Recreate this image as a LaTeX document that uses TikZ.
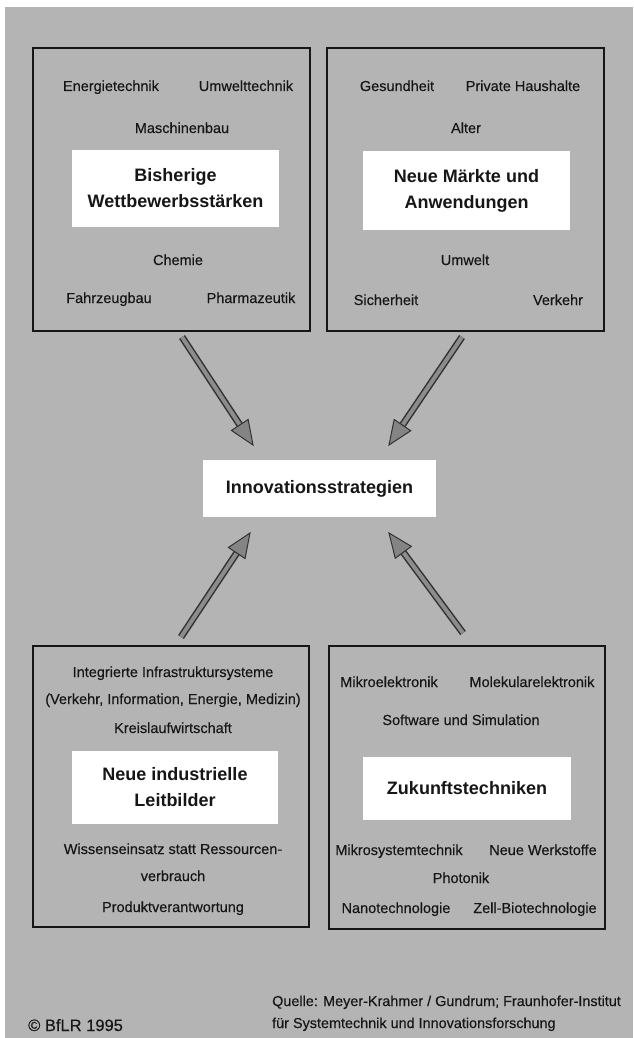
\documentclass[tikz,border=0pt]{standalone}
\usepackage{fontspec}
\setmainfont{Liberation Sans}
\newfontfamily\printfont[FakeBold=0.3]{Liberation Sans}
\usetikzlibrary{calc}

\definecolor{paper}{RGB}{180,180,180}
\definecolor{ink}{RGB}{22,22,22}
\definecolor{shaftdark}{RGB}{50,50,50}
\definecolor{shaftfill}{RGB}{140,140,140}
\definecolor{headfill}{RGB}{132,132,132}

\tikzset{
  panel/.style={draw=ink, line width=1.6pt, fill=none, inner sep=0pt},
  titlebox/.style={fill=white, inner sep=0pt, align=center, text=ink,
    font=\fontsize{18}{26}\selectfont\bfseries},
  item/.style={anchor=base, inner sep=0pt, text=ink,
    font=\printfont\fontsize{14.5}{17}\selectfont},
  note/.style={anchor=base west, inner sep=0pt, text=ink,
    font=\printfont\fontsize{14.4}{17}\selectfont},
  shaftout/.style={draw=shaftdark, line width=7pt},
  shaftin/.style={draw=shaftfill, line width=4pt},
  tipstyle/.style={fill=headfill, draw=shaftdark, line width=1pt, line join=miter},
}

% big hollow arrow from a tail coordinate to a tip coordinate
\newcommand\fatarrow[2]{%
  \coordinate (#2-base) at ($(#2)!24pt!(#1)$);
  \draw[shaftout] (#1) -- (#2-base);
  \draw[shaftin] (#1) -- (#2-base);
  \filldraw[tipstyle] (#2) -- ($(#2-base)!10pt!90:(#2)$) -- ($(#2-base)!10pt!-90:(#2)$) -- cycle;
}

\begin{document}
\begin{tikzpicture}[x=1pt, y=-1pt]
  \useasboundingbox (0,0) rectangle (633,1038);
  \fill[white] (0,0) rectangle (633,1038);
  \fill[paper] (5,7) rectangle (633,1038);

  % four panels
  \node[panel, minimum width=277pt, minimum height=283pt] (tl) at (171.5,189.5) {};
  \node[panel, minimum width=277pt, minimum height=283pt] (tr) at (465.5,189.5) {};
  \node[panel, minimum width=276pt, minimum height=281pt] (bl) at (171,786.5) {};
  \node[panel, minimum width=276pt, minimum height=283pt] (br) at (467,787.5) {};

  % panel titles
  \node[titlebox, minimum width=207pt, minimum height=77pt] (tlt) at (175.5,188.5)
    {Bisherige\\Wettbewerbsstärken};
  \node[titlebox, minimum width=207pt, minimum height=79pt] (trt) at (466.5,190.5)
    {Neue Märkte und\\Anwendungen};
  \node[titlebox, minimum width=206pt, minimum height=73pt] (blt) at (175,787.5)
    {Neue industrielle\\Leitbilder};
  \node[titlebox, minimum width=208pt, minimum height=63pt] (brt) at (467,788.5)
    {Zukunftstechniken};

  % centre
  \node[titlebox, minimum width=233pt, minimum height=57pt] (inno) at (319.5,488.5)
    {Innovationsstrategien};

  % top left panel
  \node[item] (tl1) at (111,91) {Energietechnik};
  \node[item] (tl2) at (246,91) {Umwelttechnik};
  \node[item] (tl3) at (182,133) {Maschinenbau};
  \node[item] (tl4) at (178,265) {Chemie};
  \node[item] (tl5) at (109,303) {Fahrzeugbau};
  \node[item] (tl6) at (251,303) {Pharmazeutik};

  % top right panel
  \node[item] (tr1) at (397,91) {Gesundheit};
  \node[item] (tr2) at (523,91) {Private Haushalte};
  \node[item] (tr3) at (466,133) {Alter};
  \node[item] (tr4) at (465,265) {Umwelt};
  \node[item] (tr5) at (386,305) {Sicherheit};
  \node[item] (tr6) at (558,305) {Verkehr};

  % bottom left panel
  \node[item] (bl1) at (173,677) {Integrierte Infrastruktursysteme};
  \node[item] (bl2) at (173,704) {(Verkehr, Information, Energie, Medizin)};
  \node[item] (bl3) at (173,733) {Kreislaufwirtschaft};
  \node[item] (bl4) at (173,854) {Wissenseinsatz statt Ressourcen-};
  \node[item] (bl5) at (173,881) {verbrauch};
  \node[item] (bl6) at (173,912) {Produktverantwortung};

  % bottom right panel
  \node[item] (br1) at (389,687) {Mikroelektronik};
  \node[item] (br2) at (532,687) {Molekularelektronik};
  \node[item] (br3) at (461,725) {Software und Simulation};
  \node[item] (br4) at (399,855) {Mikrosystemtechnik};
  \node[item] (br5) at (543,855) {Neue Werkstoffe};
  \node[item] (br6) at (461,883) {Photonik};
  \node[item] (br7) at (396,913) {Nanotechnologie};
  \node[item] (br8) at (535,913) {Zell-Biotechnologie};

  % arrows towards the centre
  \coordinate (a1) at (182,337);  \coordinate (h1) at (253,445);
  \coordinate (a2) at (462,337);  \coordinate (h2) at (389,445);
  \coordinate (a3) at (181,637);  \coordinate (h3) at (250,533);
  \coordinate (a4) at (463,633);  \coordinate (h4) at (389,533);
  \fatarrow{a1}{h1}
  \fatarrow{a2}{h2}
  \fatarrow{a3}{h3}
  \fatarrow{a4}{h4}

  % source line and copyright
  \node[note] (src1) at (272,1006) {Quelle: Meyer-Krahmer / Gundrum; Fraunhofer-Institut};
  \node[note] (src2) at (272,1028) {für Systemtechnik und Innovationsforschung};
  \node[note, font=\printfont\fontsize{16.5}{19}\selectfont] (copy) at (28,1031) {© BfLR 1995};
\end{tikzpicture}
\end{document}
